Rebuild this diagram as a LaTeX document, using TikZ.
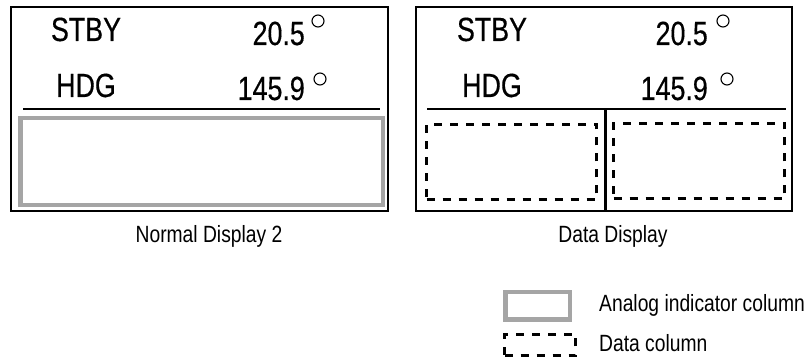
\documentclass[tikz,border=0pt]{standalone}
\usepackage{fontspec}
\setmainfont{Liberation Sans}
\newfontfamily\narrowfont[FakeStretch=0.82]{Liberation Sans}
\newfontfamily\lcdnarrow[FakeStretch=0.8, FakeBold=0.4]{Liberation Sans}
\usetikzlibrary{positioning}
\definecolor{colgray}{RGB}{165,165,165}

\begin{document}
\begin{tikzpicture}[
        x=1pt, y=-1pt,
        panel/.style={draw, line width=1.3pt, minimum width=377pt, minimum height=204pt, inner sep=0pt},
        analog/.style={draw=colgray, line width=4.5pt, inner sep=0pt},
        datacol/.style={draw, line width=3pt, dash pattern=on 8pt off 8pt, inner sep=0pt},
        lcd/.style={font=\lcdnarrow\fontsize{33.5}{33.5}\selectfont, inner sep=0pt, anchor=base},
        deg/.style={draw, circle, line width=1.1pt, minimum size=12pt, inner sep=0pt},
        caption/.style={font=\narrowfont\fontsize{23.5}{23.5}\selectfont, inner sep=0pt, anchor=base}
      ]
        \useasboundingbox (0,0) rectangle (812,358);
        % Normal Display 2
        \node[panel] (normal) at (199.5,109) {};
        \node[lcd] (stbyA) at (86,41) {STBY};
        \node[lcd, anchor=base east] (angA) at (305,45) {20.5};
        \node[deg] (degA) at (318,21) {};
        \node[lcd] (hdgA) at (86,97) {HDG};
        \node[lcd, anchor=base east] (headA) at (305,100) {145.9};
        \node[deg] (degB) at (320,79) {};
        \coordinate (sepAl) at (23,109);
        \coordinate (sepAr) at (380,109);
        \draw[line width=1.3pt] (sepAl) -- (sepAr);
        \node[analog, minimum width=362.5pt, minimum height=87pt] (analogcol) at (201.5,161.5) {};
        \node[caption] (capA) at (209,243) {Normal Display 2};
        % Data Display
        \node[panel, minimum width=376pt] (data) at (604,109) {};
        \node[lcd] (stbyB) at (492,41) {STBY};
        \node[lcd, anchor=base east] (angB) at (708,45) {20.5};
        \node[deg] (degC) at (723,21) {};
        \node[lcd] (hdgB) at (492,97) {HDG};
        \node[lcd, anchor=base east] (headB) at (708,100) {145.9};
        \node[deg] (degD) at (727,79) {};
        \coordinate (sepBl) at (427,109);
        \coordinate (sepBr) at (786,109);
        \coordinate (midtop) at (605,109);
        \draw[line width=1.3pt] (sepBl) -- (sepBr);
        \draw[line width=3pt] (midtop) -- (midtop |- data.south);
        \node[datacol, minimum width=170pt, minimum height=75pt] (dataL) at (511.5,162) {};
        \node[datacol, minimum width=171pt, minimum height=75pt] (dataR) at (699,161) {};
        \node[caption] (capB) at (613,243) {Data Display};
        % legend
        \node[analog, minimum width=64.5pt, minimum height=27.5pt] (keyA) at (537.5,306) {};
        \node[datacol, minimum width=71pt, minimum height=21pt] (keyB) at (540,345) {};
        \node[caption, anchor=base west] (txtA) at (599,312) {Analog indicator column};
        \node[caption, anchor=base west] (txtB) at (599,352) {Data column};
      \end{tikzpicture}
\end{document}
